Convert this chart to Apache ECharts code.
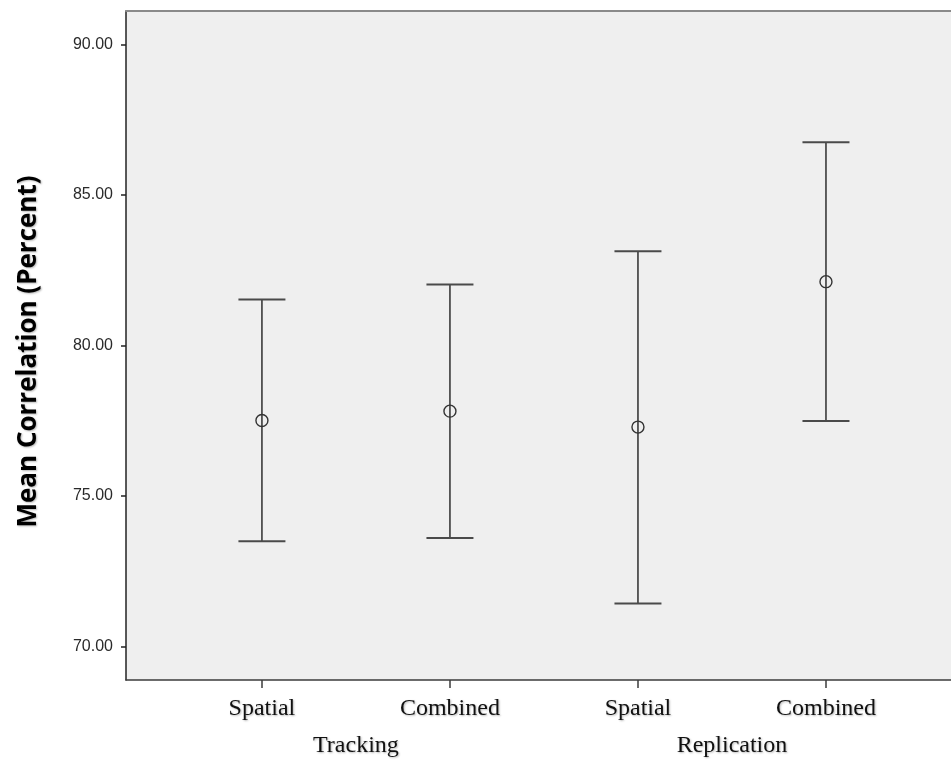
<!DOCTYPE html>
<html>
<head>
<meta charset="utf-8">
<title>Mean Correlation by Task and Condition</title>
<script src="https://cdn.jsdelivr.net/npm/echarts@6/dist/echarts.min.js"></script>
<style>
  html, body { margin: 0; padding: 0; background: #ffffff; }
  #chart { width: 951px; height: 763px; }
</style>
</head>
<body>
<div id="chart"></div>
<script>
// Conditions along the x axis, grouped by task
const conditions = ['Spatial', 'Combined', 'Spatial', 'Combined'];
const tasks = ['Tracking', 'Replication'];
// Mean correlation (percent) and the ends of each error bar
const means = [77.51, 77.82, 77.29, 82.12];
const lower = [73.50, 73.61, 71.43, 77.49];
const upper = [81.53, 82.03, 83.13, 86.75];
// Y tick values
const yTicks = [70, 75, 80, 85, 90];

// Each condition sits at x = 1..4; each task label is centred under its pair
const xPos = conditions.map((_, i) => i + 1);
const taskPos = tasks.map((_, t) => 2 * t + 1.5);

const X_MIN = 0.277, X_MAX = 4.665;
const Y_MIN = 68.89, Y_MAX = 91.11;

const shadow = {
  textShadowColor: 'rgba(0,0,0,0.28)',
  textShadowBlur: 2,
  textShadowOffsetX: 1,
  textShadowOffsetY: 1
};

const chart = echarts.init(document.getElementById('chart'), null, { renderer: 'canvas' });

chart.setOption({
  animation: false,
  backgroundColor: '#ffffff',
  grid: {
    left: 126, right: 0, top: 11, bottom: 83,
    show: true, backgroundColor: '#efefef', borderWidth: 0
  },
  xAxis: [
    {
      type: 'value', min: X_MIN, max: X_MAX, position: 'bottom',
      splitLine: { show: false },
      axisLine: { show: true, onZero: false, lineStyle: { color: '#3c3c3c', width: 1.5 } },
      axisTick: { show: true, length: 8, customValues: xPos, lineStyle: { color: '#3c3c3c', width: 1.5 } },
      axisLabel: {
        customValues: xPos, margin: 17,
        formatter: v => conditions[Math.round(v) - 1] || '',
        fontFamily: '"Liberation Serif", "Times New Roman", serif',
        fontSize: 24, color: '#111', ...shadow
      }
    },
    {
      type: 'value', min: X_MIN, max: X_MAX, position: 'bottom',
      splitLine: { show: false },
      axisLine: { show: false },
      axisTick: { show: false },
      axisLabel: {
        customValues: taskPos, margin: 54,
        formatter: v => tasks[Math.round((v - 1.5) / 2)] || '',
        fontFamily: '"Liberation Serif", "Times New Roman", serif',
        fontSize: 24, color: '#111', ...shadow
      }
    },
    {
      type: 'value', min: X_MIN, max: X_MAX, position: 'top',
      splitLine: { show: false },
      axisLine: { show: true, onZero: false, lineStyle: { color: '#8a8a8a', width: 2 } },
      axisTick: { show: false },
      axisLabel: { show: false }
    }
  ],
  yAxis: {
    type: 'value', min: Y_MIN, max: Y_MAX,
    splitLine: { show: false },
    axisLine: { show: true, onZero: false, lineStyle: { color: '#222', width: 1.5 } },
    axisTick: { show: true, length: 5, customValues: yTicks, lineStyle: { color: '#222', width: 1.5 } },
    axisLabel: {
      customValues: yTicks, margin: 13,
      formatter: v => v.toFixed(2),
      fontFamily: '"Liberation Sans", Arial, sans-serif',
      fontSize: 16, color: '#2a2a2a'
    },
    name: 'Mean Correlation (Percent)',
    nameLocation: 'middle',
    nameGap: 84,
    nameTextStyle: {
      fontFamily: '"Open Sans", Lato, sans-serif',
      fontWeight: 'bold', fontSize: 26, color: '#000',
      padding: [0, 12, 0, 0],
      ...shadow
    }
  },
  series: [
    {
      type: 'custom',
      xAxisIndex: 0, yAxisIndex: 0,
      data: xPos.map((x, i) => [x, lower[i], upper[i]]),
      renderItem: function (params, api) {
        const x = api.value(0);
        const lo = api.coord([x, api.value(1)]);
        const hi = api.coord([x, api.value(2)]);
        const half = 23.5;
        const capStyle = { stroke: '#4a4a4a', lineWidth: 2 };
        return {
          type: 'group',
          children: [
            { type: 'line', shape: { x1: hi[0], y1: hi[1], x2: lo[0], y2: lo[1] }, style: { stroke: '#3a3a3a', lineWidth: 1.6 } },
            { type: 'line', shape: { x1: hi[0] - half, y1: hi[1], x2: hi[0] + half, y2: hi[1] }, style: capStyle },
            { type: 'line', shape: { x1: lo[0] - half, y1: lo[1], x2: lo[0] + half, y2: lo[1] }, style: capStyle }
          ]
        };
      },
      z: 2
    },
    {
      type: 'scatter',
      xAxisIndex: 0, yAxisIndex: 0,
      data: xPos.map((x, i) => [x, means[i]]),
      symbol: 'circle',
      symbolSize: 12,
      itemStyle: { color: 'rgba(0,0,0,0)', borderColor: '#333', borderWidth: 1.4, opacity: 1 },
      z: 3
    }
  ]
});
</script>
</body>
</html>
